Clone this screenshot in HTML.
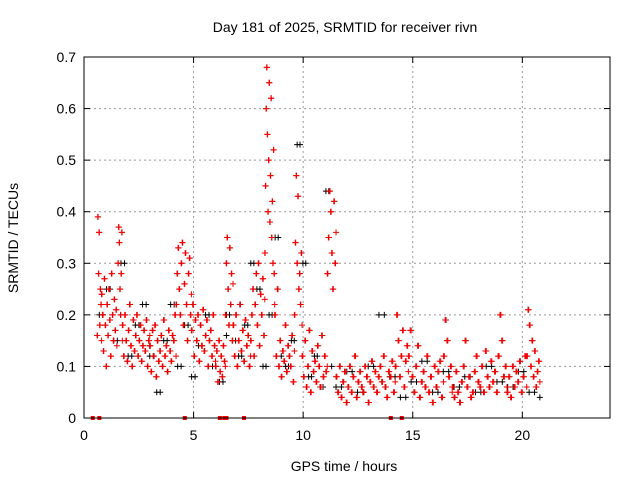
<!DOCTYPE html>
<html><head><meta charset="utf-8"><style>
body{margin:0;background:#fff}
svg{display:block;font-family:"Liberation Sans",sans-serif}
</style></head><body>
<svg id="c" width="640" height="480" viewBox="0 0 640 480">
<rect x="0" y="0" width="640" height="480" fill="#fff"/>
<text x="345" y="32" font-size="14" text-anchor="middle">Day 181 of 2025, SRMTID for receiver rivn</text>
<text x="344" y="471" font-size="14" text-anchor="middle">GPS time / hours</text>
<text transform="translate(18,238) rotate(-90)" font-size="14" text-anchor="middle">SRMTID / TECUs</text>
<g id="grid"></g><g id="ticks"></g><g id="pts"></g>
<rect x="84" y="57" width="526" height="361" fill="none" stroke="#000" stroke-width="1"/>
</svg>
<script>
const xTicks=[0,5,10,15,20];
const yTicks=[0,0.1,0.2,0.3,0.4,0.5,0.6,0.7];
const yLabels=["0","0.1","0.2","0.3","0.4","0.5","0.6","0.7"];
// segments: [startHour, endHour, values]
const redSegs=[
[0.6,0.8,[0.16,0.39,0.28,0.36,0.18,0.25,0.22,0.15]],
[0.8,1.5,[0.24,0.2,0.13,0.27,0.18,0.1,0.22,0.16,0.25,0.19,0.12,0.28,0.2,0.15,0.23,0.17,0.21,0.14]],
[1.55,1.75,[0.3,0.37,0.34,0.25,0.2,0.28,0.36,0.15]],
[1.75,3.0,[0.18,0.12,0.2,0.15,0.11,0.17,0.22,0.14,0.1,0.19,0.13,0.16,0.2,0.12,0.15,0.18,0.11,0.14,0.17,0.13,0.19,0.1,0.15,0.16]],
[3.0,4.2,[0.14,0.09,0.17,0.12,0.18,0.08,0.15,0.11,0.13,0.16,0.1,0.19,0.12,0.14,0.09,0.17,0.13,0.11,0.16,0.15,0.2,0.12]],
[4.2,4.9,[0.22,0.28,0.33,0.25,0.2,0.3,0.34,0.18,0.26,0.32,0.22,0.15,0.28,0.31,0.2,0.24]],
[4.9,6.0,[0.17,0.22,0.12,0.19,0.15,0.2,0.11,0.18,0.14,0.21,0.13,0.16,0.19,0.1,0.15,0.17,0.12,0.2,0.14,0.11]],
[6.0,6.45,[0.1,0.13,0.07,0.15,0.09,0.12,0.08,0.14,0.11,0.1]],
[6.45,6.8,[0.2,0.3,0.35,0.25,0.18,0.33,0.22,0.28,0.15,0.26]],
[6.8,7.6,[0.18,0.12,0.2,0.1,0.15,0.22,0.13,0.17,0.11,0.19,0.14,0.16,0.1,0.12]],
[7.6,8.25,[0.15,0.2,0.25,0.12,0.22,0.28,0.18,0.3,0.14,0.24,0.2,0.27,0.16,0.23]],
[8.25,8.7,[0.32,0.45,0.6,0.68,0.55,0.4,0.5,0.65,0.38,0.47,0.62,0.35,0.42,0.3,0.52,0.28,0.22]],
[8.7,9.6,[0.2,0.12,0.25,0.1,0.15,0.08,0.13,0.11,0.18,0.09,0.14,0.12,0.1,0.16,0.07,0.13]],
[9.6,9.95,[0.2,0.34,0.47,0.3,0.43,0.25,0.28,0.22,0.32,0.18]],
[9.95,11.1,[0.12,0.08,0.15,0.06,0.1,0.17,0.05,0.13,0.09,0.11,0.07,0.14,0.1,0.06,0.16,0.08,0.12,0.09,0.1]],
[11.1,11.5,[0.28,0.35,0.44,0.4,0.32,0.25,0.42,0.3,0.36]],
[11.5,14.2,[0.08,0.05,0.1,0.04,0.07,0.09,0.03,0.06,0.1,0.05,0.08,0.12,0.04,0.07,0.09,0.06,0.05,0.1,0.08,0.03,0.07,0.11,0.06,0.09,0.05,0.08,0.1,0.07,0.12,0.06,0.04,0.09,0.08,0.11,0.05,0.07]],
[14.2,14.8,[0.1,0.2,0.15,0.08,0.12,0.17,0.06,0.11,0.14,0.09]],
[14.8,16.4,[0.12,0.17,0.08,0.05,0.1,0.14,0.04,0.07,0.09,0.06,0.12,0.05,0.08,0.03,0.1,0.06,0.09,0.11,0.04,0.07]],
[16.4,16.8,[0.12,0.19,0.15,0.08,0.1,0.05]],
[16.8,18.9,[0.06,0.04,0.09,0.05,0.03,0.07,0.1,0.15,0.06,0.08,0.04,0.05,0.09,0.12,0.07,0.06,0.1,0.05,0.13,0.08,0.06,0.11,0.07,0.09,0.05,0.12]],
[18.9,19.3,[0.12,0.2,0.15,0.08,0.1,0.06]],
[19.3,20.2,[0.05,0.08,0.04,0.1,0.06,0.09,0.07,0.11,0.05,0.08,0.12,0.06]],
[20.2,20.8,[0.12,0.21,0.18,0.1,0.15,0.08,0.13,0.06,0.09,0.11,0.07]]
];
const blackSegs=[
[0.7,3.0,[0.2,0.25,0.15,0.3,0.12,0.18,0.22,0.14]],
[3.0,6.5,[0.12,0.05,0.15,0.22,0.1,0.18,0.08,0.14,0.2,0.1,0.07,0.16]],
[6.5,9.0,[0.2,0.15,0.12,0.18,0.3,0.25,0.1,0.2,0.35,0.12]],
[9.2,11.3,[0.1,0.15,0.53,0.3,0.08,0.12,0.06,0.44,0.1]],
[11.5,20.8,[0.06,0.09,0.05,0.1,0.2,0.08,0.04,0.07,0.11,0.05,0.09,0.06,0.08,0.05,0.1,0.07,0.06,0.09,0.05,0.04]]
];
const zeroHours=[0.4,0.7,4.6,6.2,6.4,6.5,7.3,14.0,14.5];
const X0=84,X1=610,Y0=418,Y1=57;
const sx=h=>X0+h*(X1-X0)/24, sy=v=>Y0-v*(Y0-Y1)/0.7;
const NS="http://www.w3.org/2000/svg";
const mk=(t,a,p)=>{const e=document.createElementNS(NS,t);for(const k in a)e.setAttribute(k,a[k]);p.appendChild(e);return e;};
const grid=document.getElementById('grid'),ticks=document.getElementById('ticks'),pts=document.getElementById('pts');
yTicks.forEach((v,i)=>{const y=sy(v);
 if(i>0&&i<yTicks.length-1){const g=mk('line',{x1:X0,x2:X1,y1:y,y2:y,stroke:'#999','stroke-dasharray':'2,3','stroke-width':1},grid);
 
 }
 mk('line',{x1:X0,x2:X0+6,y1:y,y2:y,stroke:'#000'},ticks);mk('line',{x1:X1,x2:X1-6,y1:y,y2:y,stroke:'#000'},ticks);
 const t=mk('text',{x:X0-8,y:y+5,'font-size':14,'text-anchor':'end'},ticks);t.textContent=yLabels[i];
 
 });
xTicks.forEach(h=>{const x=sx(h);
 if(h>0){const g=mk('line',{x1:x,x2:x,y1:Y0,y2:Y1,stroke:'#999','stroke-dasharray':'2,3','stroke-width':1},grid);
 
 }
 mk('line',{x1:x,x2:x,y1:Y0,y2:Y0-6,stroke:'#000'},ticks);mk('line',{x1:x,x2:x,y1:Y1,y2:Y1+6,stroke:'#000'},ticks);
 const t=mk('text',{x:x,y:Y0+22,'font-size':14,'text-anchor':'middle'},ticks);t.textContent=h;
 
 });
function plus(h,v,col){const x=sx(h),y=sy(v);
 const p=mk('path',{d:`M${x-3},${y}h6M${x},${y-3}v6`,stroke:col,'stroke-width':1,fill:'none'},pts);
 
 }
function draw(segs,col){segs.forEach(([a,b,vals])=>{
 const n=vals.length,st=(b-a)/Math.max(1,n-1);
 vals.forEach((v,i)=>plus(a+st*i,v,col));
 vals.forEach((v,i)=>{if(i<n-1)plus(a+st*(i+0.5),v,col);});
});}
draw(blackSegs,'#000');draw(redSegs,'#e00');
zeroHours.forEach(h=>{const r=mk('rect',{x:sx(h)-2,y:Y0-2,width:4,height:4,fill:'#e00'},pts);
 
 });
</script>
</body></html>
